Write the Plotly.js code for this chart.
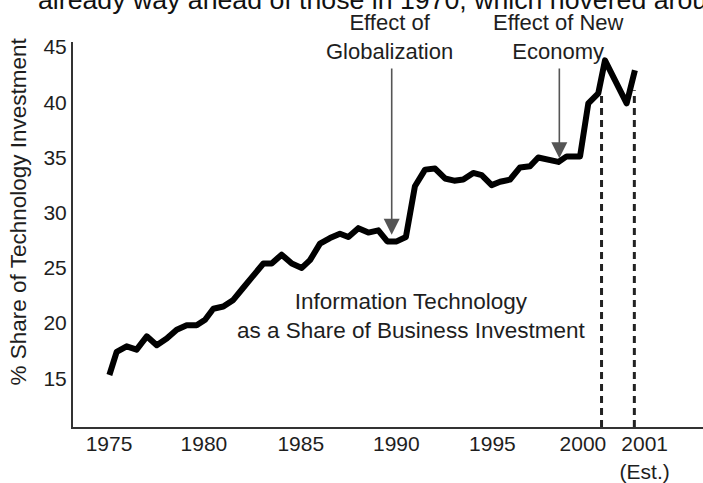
<!DOCTYPE html>
<html>
<head>
<meta charset="utf-8">
<script src="https://cdn.plot.ly/plotly-3.0.1.min.js"></script>
<style>
  html, body { margin: 0; padding: 0; background: #ffffff; }
  #chart { width: 703px; height: 483px; }
  .js-line { stroke-linejoin: round; }
</style>
</head>
<body>
<div id="chart"></div>
<script>
// ---- data ----
var years = [1975.02,1975.40,1975.92,1976.44,1976.97,1977.49,1978.01,1978.53,1979.05,1979.57,
             1980.01,1980.44,1980.96,1981.48,1982.00,1982.52,1983.05,1983.48,1984.00,1984.53,
             1985.05,1985.48,1986.00,1986.52,1987.04,1987.48,1988.00,1988.52,1989.04,1989.51,
             1990.00,1990.48,1990.95,1991.48,1992.00,1992.52,1993.00,1993.47,1993.99,1994.43,
             1994.95,1995.39,1995.91,1996.43,1996.95,1997.38,1997.99,1998.43,1998.86,1999.56,
             1999.99,2000.51,2000.86,2001.38,2001.99,2002.42];
var itShare = [15.3,17.4,17.9,17.6,18.8,18.0,18.6,19.4,19.8,19.8,
               20.3,21.3,21.5,22.1,23.2,24.2,25.4,25.4,26.2,25.4,
               25.0,25.7,27.2,27.7,28.1,27.8,28.6,28.2,28.4,27.4,
               27.4,27.8,32.4,33.9,34.0,33.1,32.9,33.0,33.6,33.4,
               32.5,32.8,33.0,34.1,34.2,35.0,34.8,34.6,35.1,35.1,
               39.9,40.8,43.8,42.0,39.9,42.9];

var xTickVals = [1975, 1979.95, 1985, 1989.98, 1994.99, 1999.71, 2002.93];
var xTickText = ['1975', '1980', '1985', '1990', '1995', '2000', '2001<br>(Est.)'];
var yTickVals = [15, 20, 25, 30, 35, 40, 45];

var markerYears = [2000.68, 2002.39];   // dashed vertical markers (2000, 2001 est.)
var markerTops  = [40.9, 41.1];

var arrowYears  = [1989.74, 1998.48];
var arrowTips   = [28.0, 34.93];
var arrowTail   = 43.2;
var arrowLabels = ['Effect of<br>Globalization', 'Effect of New<br>Economy'];
var arrowLabelYears = [1989.65, 1998.44];

var seriesLabel = ['Information Technology', 'as a Share of Business Investment'];
var yTitle = '% Share of Technology Investment';
var pageText = 'already way ahead of those in 1970, which hovered around';

// ---- chart ----
var FONT = 'Liberation Sans, Arial, Helvetica, sans-serif';
var TXT = '#1e1e1e';

var traces = [{
  x: years, y: itShare, type: 'scatter', mode: 'lines',
  line: { color: '#000000', width: 6 },
  hoverinfo: 'skip', showlegend: false
}];

var shapes = markerYears.map(function (yr, i) {
  return { type: 'line', xref: 'x', yref: 'y', layer: 'below',
           x0: yr, x1: yr, y0: 10.59, y1: markerTops[i],
           line: { color: '#222222', width: 3, dash: '7px,5px' } };
});

var annotations = [];
arrowYears.forEach(function (yr, i) {
  annotations.push({
    x: yr, y: arrowTips[i], xref: 'x', yref: 'y',
    ax: yr, ay: arrowTail, axref: 'x', ayref: 'y',
    text: '', showarrow: true, arrowhead: 2, arrowsize: 2.0,
    arrowwidth: 1.6, arrowcolor: '#555555', standoff: 0, startstandoff: 0
  });
  annotations.push({ x: arrowLabelYears[i], y: 1.0125, xref: 'x', yref: 'paper',
    text: arrowLabels[i], showarrow: false, xanchor: 'center', yanchor: 'middle',
    font: { family: FONT, size: 22, color: TXT } });
});
annotations.push({ x: 1990.77, y: 20.64, xref: 'x', yref: 'y',
  text: seriesLabel[0] + '<br>' + seriesLabel[1],
  showarrow: false, xanchor: 'center', yanchor: 'middle',
  font: { family: FONT, size: 22.5, color: TXT } });
annotations.push({ x: -0.0857, y: 0.5597, xref: 'paper', yref: 'paper', text: yTitle,
  textangle: -90, showarrow: false, xanchor: 'center', yanchor: 'middle',
  font: { family: FONT, size: 22.5, color: TXT } });
annotations.push({ x: -0.0587, y: 1.1078, xref: 'paper', yref: 'paper', text: pageText,
  showarrow: false, xanchor: 'left', yanchor: 'middle',
  font: { family: FONT, size: 26.7, color: '#111111' } });

var layout = {
  width: 703, height: 483, autosize: false,
  margin: { l: 73, r: 0, t: 42, b: 56, pad: 0 },
  paper_bgcolor: '#ffffff', plot_bgcolor: '#ffffff',
  showlegend: false,
  font: { family: FONT, color: TXT },
  xaxis: {
    range: [1973.123, 2005.97], showgrid: false, zeroline: false,
    showline: true, linecolor: '#333333', linewidth: 2,
    ticks: '', tickvals: xTickVals, ticktext: xTickText, ticklabelstandoff: -3,
    tickfont: { family: FONT, size: 21, color: TXT }, fixedrange: true
  },
  yaxis: {
    range: [10.59, 45.46], showgrid: false, zeroline: false,
    showline: true, linecolor: '#333333', linewidth: 2,
    ticks: '', tickvals: yTickVals,
    tickfont: { family: FONT, size: 21, color: TXT }, fixedrange: true
  },
  shapes: shapes,
  annotations: annotations
};

Plotly.newPlot('chart', traces, layout, { displayModeBar: false, staticPlot: true });
</script>
</body>
</html>
